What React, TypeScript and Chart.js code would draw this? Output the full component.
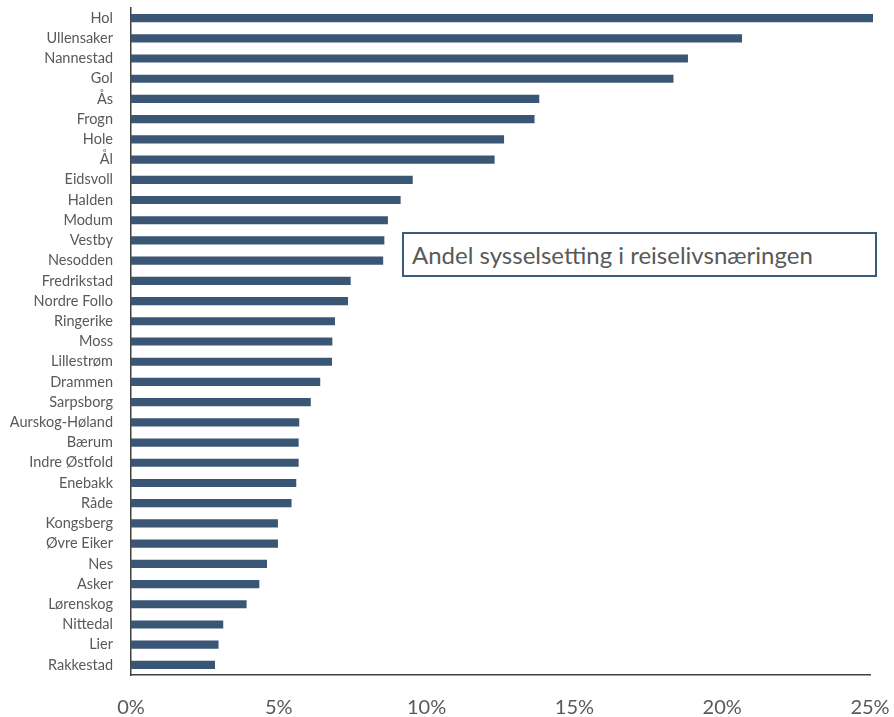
import React, { useEffect, useRef } from "react";
import { Chart, registerables } from "chart.js";

Chart.register(...registerables);

const categories = [
  "Hol", "Ullensaker", "Nannestad", "Gol", "Ås", "Frogn", "Hole", "Ål",
  "Eidsvoll", "Halden", "Modum", "Vestby", "Nesodden", "Fredrikstad",
  "Nordre Follo", "Ringerike", "Moss", "Lillestrøm", "Drammen", "Sarpsborg",
  "Aurskog-Høland", "Bærum", "Indre Østfold", "Enebakk", "Råde", "Kongsberg",
  "Øvre Eiker", "Nes", "Asker", "Lørenskog", "Nittedal", "Lier", "Rakkestad",
];

const shares = [
  25.09, 20.66, 18.83, 18.34, 13.8, 13.64, 12.61, 12.29,
  9.52, 9.11, 8.68, 8.56, 8.52, 7.42,
  7.33, 6.89, 6.8, 6.79, 6.39, 6.07,
  5.68, 5.66, 5.66, 5.58, 5.42, 4.96,
  4.96, 4.59, 4.33, 3.9, 3.11, 2.95, 2.83,
];

const xTicks = [0, 5, 10, 15, 20, 25];
const boxTitle = "Andel sysselsetting i reiselivsnæringen";

const FONT = "Lato, 'Open Sans', sans-serif";
const TEXT = "#595959";
const BAR = "#3A5675";

const zeroPad = (scale: any) => {
  scale.paddingTop = 0;
  scale.paddingBottom = 0;
  scale.paddingLeft = 0;
  scale.paddingRight = 0;
};

export default function App() {
  const ref = useRef<HTMLCanvasElement | null>(null);

  useEffect(() => {
    if (!ref.current) return;
    const chart = new Chart(ref.current, {
      type: "bar",
      data: {
        labels: categories,
        datasets: [
          {
            data: shares,
            backgroundColor: BAR,
            borderWidth: 0,
            barThickness: 7.5,
            clip: false as any,
          },
        ],
      },
      options: {
        indexAxis: "y",
        animation: false,
        responsive: false,
        maintainAspectRatio: false,
        layout: { padding: { top: 8, right: 24, left: 0, bottom: 0 } },
        plugins: {
          legend: { display: false },
          tooltip: { enabled: false },
        },
        scales: {
          x: {
            min: 0,
            max: 25,
            afterBuildTicks: (scale: any) => {
              scale.ticks = xTicks.map((v) => ({ value: v }));
            },
            afterFit: (scale: any) => {
              scale.height = 42;
              zeroPad(scale);
            },
            grid: { display: false, drawTicks: false },
            border: { display: true, color: "#404040", width: 1.5 },
            ticks: {
              padding: 21,
              color: TEXT,
              font: { family: FONT, size: 20 },
              maxRotation: 0,
              callback: (v: any) => `${v}%`,
            },
          },
          y: {
            afterFit: (scale: any) => {
              scale.width = 131;
              zeroPad(scale);
            },
            grid: { display: false, drawTicks: false },
            border: { display: true, color: "#404040", width: 1.5 },
            ticks: {
              padding: 18,
              color: TEXT,
              autoSkip: false,
              font: { family: FONT, size: 14.5 },
            },
          },
        },
      },
    });
    return () => chart.destroy();
  }, []);

  return (
    <div
      style={{
        position: "fixed",
        left: 0,
        top: 0,
        width: 894,
        height: 717,
        background: "#fff",
      }}
    >
      <canvas ref={ref} width={894} height={717} style={{ display: "block" }} />
      <div
        style={{
          position: "absolute",
          left: 402,
          top: 232,
          width: 475,
          height: 45,
          boxSizing: "border-box",
          border: "2px solid #3C5A7A",
          background: "#fff",
          color: TEXT,
          fontFamily: FONT,
          fontSize: 24,
          lineHeight: "41px",
          paddingLeft: 8,
          whiteSpace: "nowrap",
        }}
      >
        {boxTitle}
      </div>
    </div>
  );
}
